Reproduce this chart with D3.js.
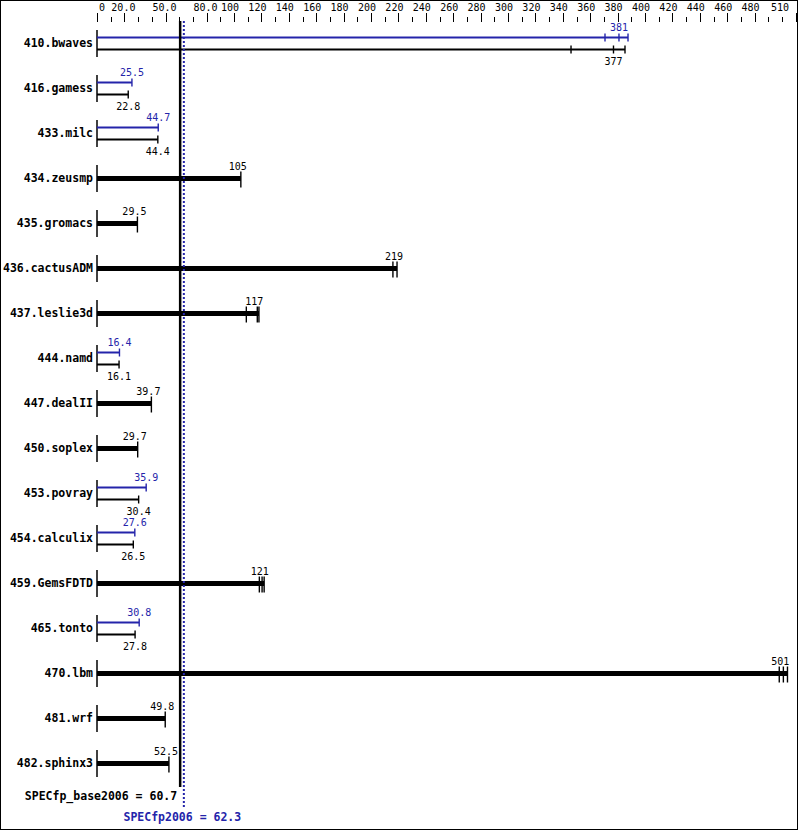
<!DOCTYPE html>
<html>
<head>
<meta charset="utf-8">
<script src="https://cdn.jsdelivr.net/npm/d3@7"></script>
<style>
body { margin: 0; background: #fff; }
text { font-family: "DejaVu Sans Mono", monospace; }
</style>
</head>
<body>
<svg id="chart" width="799" height="831"></svg>
<script>
// SPECfp2006 result chart: base (black) and peak (blue) ratios per benchmark

var benchmarks = ["410.bwaves", "416.gamess", "433.milc", "434.zeusmp", "435.gromacs",
	"436.cactusADM", "437.leslie3d", "444.namd", "447.dealII", "450.soplex", "453.povray",
	"454.calculix", "459.GemsFDTD", "465.tonto", "470.lbm", "481.wrf", "482.sphinx3"];

var baseScores = [377, 22.8, 44.4, 105, 29.5, 219, 117, 16.1, 39.7, 29.7, 30.4, 26.5, 121, 27.8, 501, 49.8, 52.5];
var baseRuns = [[346, 377, 385.4], [22.8], [44.4], [105], [29.5], [216, 219], [109, 117, 118.2],
	[16.1], [39.7], [29.7], [30.4], [26.5], [118.5, 120.5, 122], [27.8], [498, 501, 504], [49.8], [52.5]];

// peak only where it differs from base
var peakScores = [381, 25.5, 44.7, null, null, null, null, 16.4, null, null, 35.9, 27.6, null, 30.8, null, null, null];
var peakRuns = [[370.8, 381, 387.6], [25.5], [44.7], null, null, null, null, [16.4], null, null,
	[35.9], [27.6], null, [30.8], null, null, null];

var baseMean = 60.7, peakMean = 62.3;

var tickLabels = ["0", "20.0", "50.0", "80.0", "100", "120", "140", "160", "180", "200", "220", "240",
	"260", "280", "300", "320", "340", "360", "380", "400", "420", "440", "460", "480", "510"];
var minorTicks = [10, 30, 40, 60, 70, 90, 110, 130, 150, 170, 190, 210, 230, 250, 270, 290, 310, 330,
	350, 370, 390, 410, 430, 450, 470, 490, 500];

var blue = "#2424aa";

var svg = d3.select("#chart");
svg.append("rect").attr("width", 799).attr("height", 831).attr("fill", "#fff");
svg.append("rect").attr("x", 0.5).attr("y", 0.5).attr("width", 797).attr("height", 829)
	.attr("fill", "none").attr("stroke", "#000").attr("stroke-width", 1);

var x = d3.scaleLinear().domain([0, 510]).range([97, 795.7]);
var y = d3.scalePoint().domain(benchmarks).range([43, 763]);

// top axis
var majorVals = tickLabels.map(Number);
var axis = svg.append("g");
axis.selectAll("line.major").data(majorVals).enter().append("line")
	.attr("x1", function(d) { return Math.round(x(d)) + 0.5; })
	.attr("x2", function(d) { return Math.round(x(d)) + 0.5; })
	.attr("y1", 13).attr("y2", 22)
	.attr("stroke", "#000");
axis.selectAll("line.minor").data(minorTicks).enter().append("line")
	.attr("x1", function(d) { return Math.round(x(d)) + 0.5; })
	.attr("x2", function(d) { return Math.round(x(d)) + 0.5; })
	.attr("y1", 17).attr("y2", 22)
	.attr("stroke", "#000");
axis.selectAll("text").data(tickLabels).enter().append("text")
	.attr("x", function(d) {
		var w = d.length * 6.02;
		var c = x(+d) + (d.length === 4 ? -1 : -4);
		c = Math.max(c, 99 + w / 2);
		c = Math.min(c, 789 - w / 2);
		return c;
	})
	.attr("y", 7).attr("dy", "0.35em")
	.attr("text-anchor", "middle")
	.attr("font-size", 10)
	.text(function(d) { return d; });

// rows
var rows = svg.selectAll("g.row").data(benchmarks).enter().append("g")
	.attr("class", "row")
	.attr("transform", function(d) { return "translate(0," + y(d) + ")"; });

rows.append("text")
	.attr("x", 93).attr("y", 0).attr("dy", "0.35em")
	.attr("text-anchor", "end")
	.attr("font-size", 11.5).attr("font-weight", "bold")
	.text(function(d) { return d; });

rows.append("line")
	.attr("x1", x(0)).attr("x2", x(0))
	.attr("y1", -13).attr("y2", 14)
	.attr("stroke", "#000").attr("stroke-width", 1.5);

function drawBar(g, runs, score, off, color, thick, labelDy, labelDx) {
	var end = d3.max(runs);
	g.append("line")
		.attr("x1", x(0)).attr("x2", x(end))
		.attr("y1", off).attr("y2", off)
		.attr("stroke", color).attr("stroke-width", thick ? 5 : 2);
	var top = thick ? 7 : 4, bot = thick ? 9 : 4;
	runs.forEach(function(r) {
		g.append("line")
			.attr("x1", x(r)).attr("x2", x(r))
			.attr("y1", off - top).attr("y2", off + bot)
			.attr("stroke", color).attr("stroke-width", 1.4);
	});
	g.append("text")
		.attr("x", x(score) + labelDx).attr("y", labelDy).attr("dy", "0.35em")
		.attr("text-anchor", "middle")
		.attr("font-size", 10)
		.attr("fill", color)
		.text(score);
}

rows.each(function(d, i) {
	var g = d3.select(this);
	if (peakScores[i] != null) {
		drawBar(g, peakRuns[i], peakScores[i], -5.5, blue, false, -16, 0);
		drawBar(g, baseRuns[i], baseScores[i], 6.5, "#000", false, 18, 0);
	} else {
		drawBar(g, baseRuns[i], baseScores[i], 0.5, "#000", true, -11.5, -3);
	}
});

// overall means
svg.append("line")
	.attr("x1", x(baseMean)).attr("x2", x(baseMean))
	.attr("y1", 21).attr("y2", 787)
	.attr("stroke", "#000").attr("stroke-width", 2.5);
svg.append("line")
	.attr("x1", x(peakMean) + 1.5).attr("x2", x(peakMean) + 1.5)
	.attr("y1", 21).attr("y2", 809)
	.attr("stroke", blue).attr("stroke-width", 2)
	.attr("stroke-dasharray", "2,2");

svg.append("text")
	.attr("x", x(baseMean) - 3).attr("y", 796).attr("dy", "0.35em")
	.attr("text-anchor", "end")
	.attr("font-size", 11.5).attr("font-weight", "bold")
	.text("SPECfp_base2006 = " + baseMean);
svg.append("text")
	.attr("x", x(peakMean)).attr("y", 817).attr("dy", "0.35em")
	.attr("text-anchor", "middle")
	.attr("font-size", 11.5).attr("font-weight", "bold")
	.attr("fill", blue)
	.text("SPECfp2006 = " + peakMean);
</script>
</body>
</html>
